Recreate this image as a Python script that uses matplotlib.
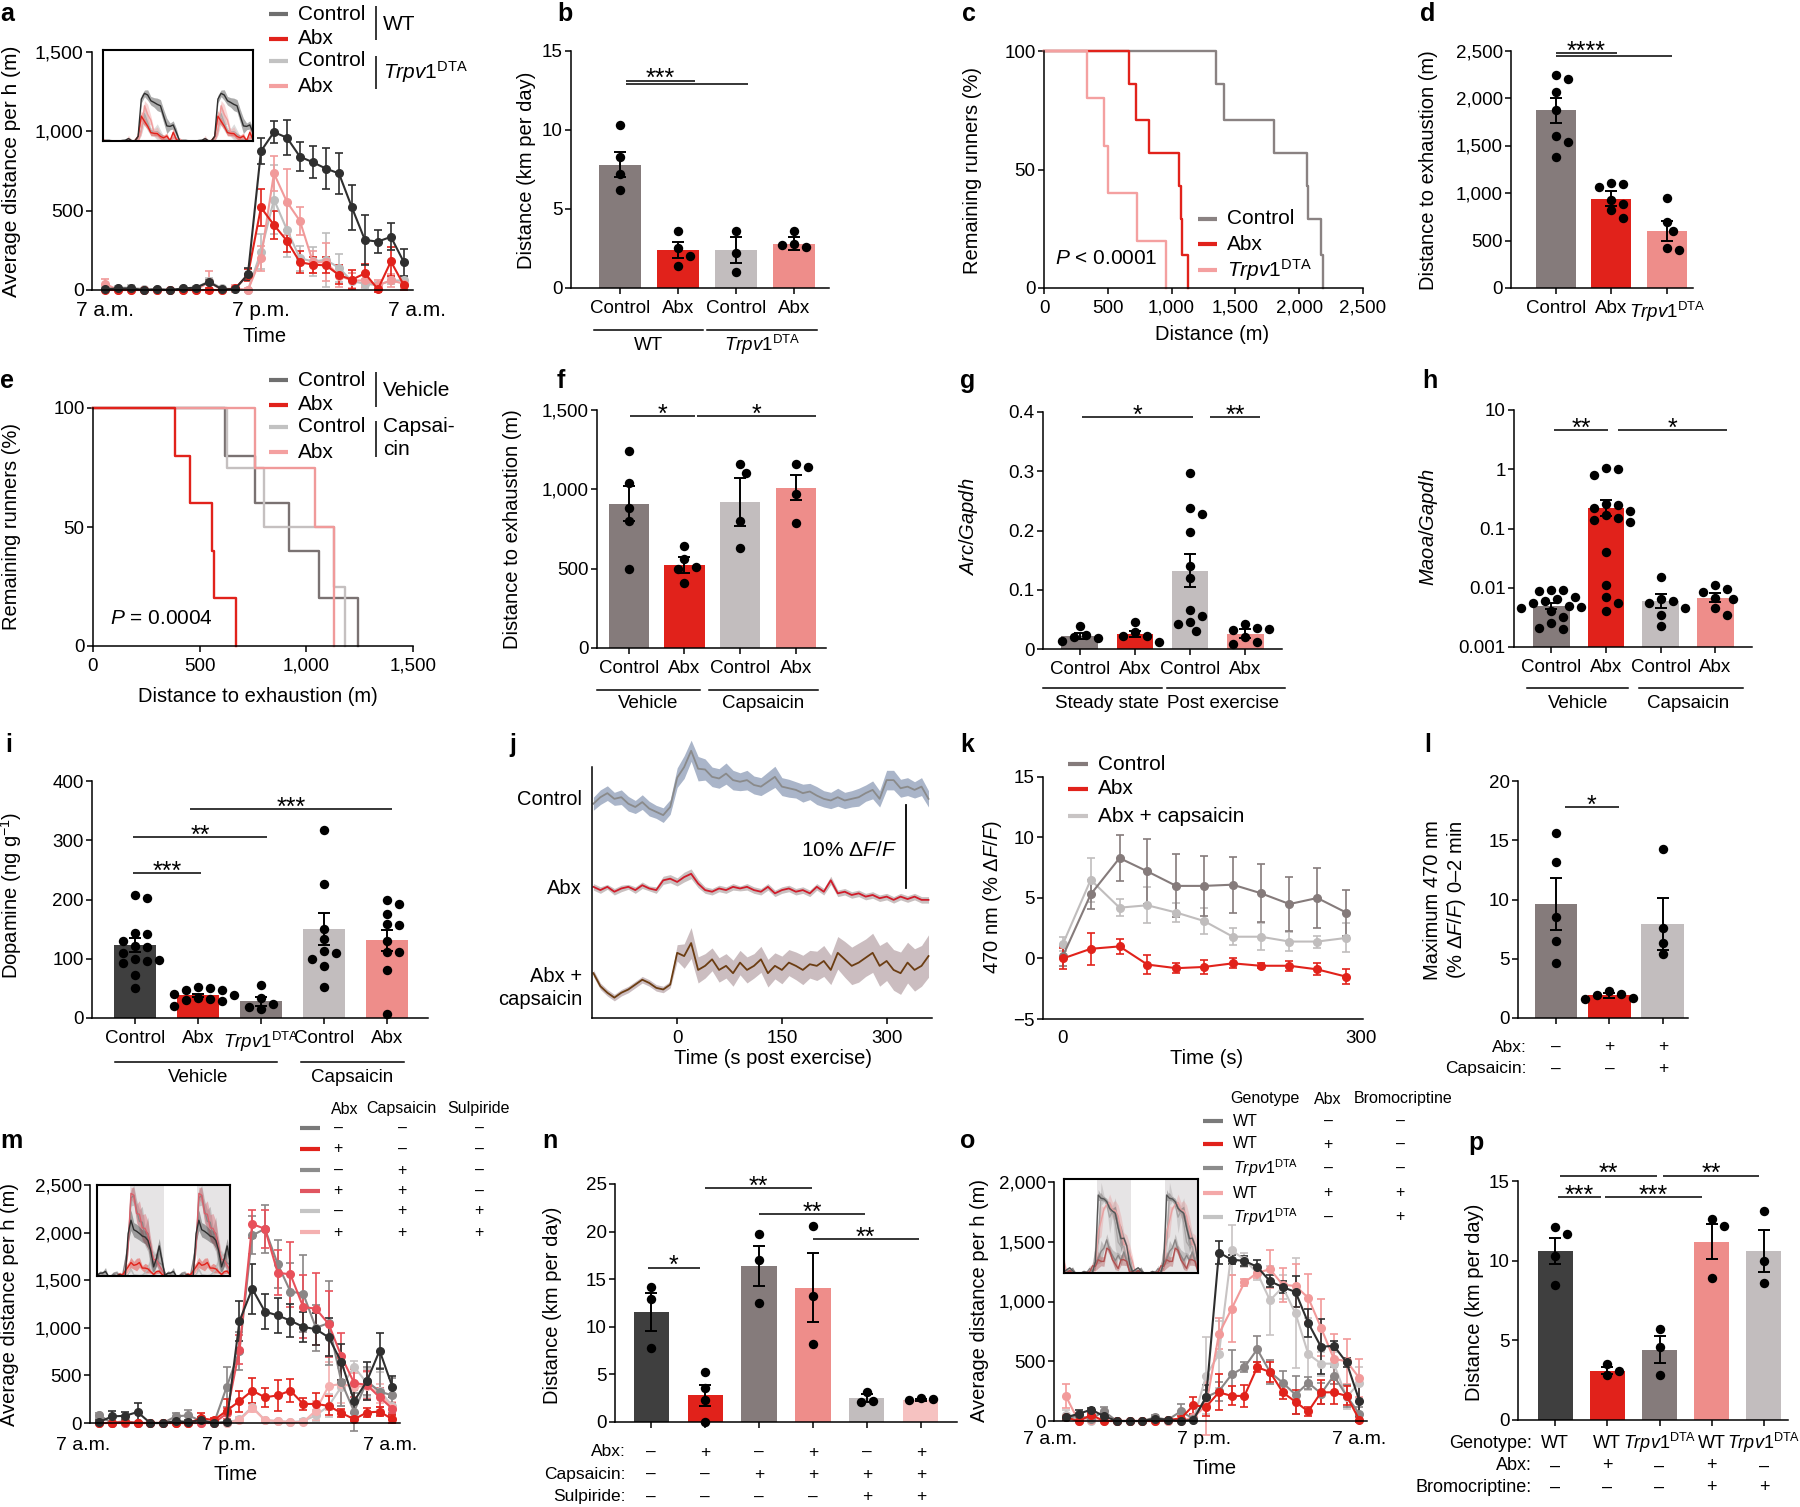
import numpy as np
import matplotlib
matplotlib.use("Agg")
import matplotlib.pyplot as plt
from matplotlib import transforms
from matplotlib.lines import Line2D
from matplotlib.ticker import FuncFormatter

W, H = 1800, 1507
FS = 13.5      # ticks and general text
LFS = 14.5     # axis labels
LEG = 15       # legends
TFS = 11.5     # legend tables in m and o
RFS = 12.5     # +/- rows under bars
SFS = 18       # significance stars
plt.rcParams['font.family'] = ['Liberation Sans', 'DejaVu Sans']
plt.rcParams['mathtext.fontset'] = 'custom'
plt.rcParams['mathtext.rm'] = 'Liberation Sans'
plt.rcParams['mathtext.it'] = 'Liberation Sans:italic'
plt.rcParams['mathtext.bf'] = 'Liberation Sans:bold'
plt.rcParams['axes.linewidth'] = 1.1

TRPV = r'$\mathit{Trpv}\mathrm{1}^{\mathrm{DTA}}$'
DASH = '–'

DARK = '#3f3f3f'
BROWN = '#857b7b'
RED = '#e1221b'
LGRAY = '#c2bdbe'
PINK = '#ee8d8a'
LPINK = '#f6c2c1'

# ---------------- data ----------------
hours = np.arange(24)
time_labels = ['7 a.m.', '7 p.m.', '7 a.m.']

# a: hourly wheel running
a_wt_ctrl = [5, 10, 10, 0, 5, 0, 10, 15, 50, 5, 5, 100, 875, 995, 960, 840, 805, 765, 735, 520, 315, 305, 335, 175]
a_wt_ctrl_err = [5, 5, 5, 5, 5, 5, 5, 5, 10, 5, 5, 40, 80, 70, 110, 90, 100, 130, 130, 140, 160, 70, 85, 85]
a_wt_abx = [0, 0, 0, 0, 0, 0, 0, 0, 0, 0, 10, 95, 520, 410, 310, 175, 160, 155, 95, 65, 105, 5, 180, 30]
a_wt_abx_err = [0, 0, 0, 0, 0, 0, 0, 0, 10, 0, 10, 40, 115, 90, 70, 70, 50, 50, 60, 60, 60, 20, 90, 30]
a_tr_ctrl = [10, 15, 15, 5, 5, 0, 10, 15, 55, 10, 5, 0, 240, 570, 380, 200, 180, 190, 140, 55, 40, 30, 60, 60]
a_tr_ctrl_err = [10, 10, 15, 5, 5, 5, 10, 10, 20, 10, 5, 5, 110, 220, 170, 80, 90, 170, 90, 50, 30, 20, 20, 20]
a_tr_abx = [40, 0, 0, 0, 0, 0, 0, 0, 50, 0, 10, 0, 200, 735, 555, 435, 175, 175, 90, 60, 60, 30, 60, 40]
a_tr_abx_err = [30, 5, 5, 5, 5, 5, 5, 5, 70, 5, 20, 10, 80, 110, 210, 90, 70, 120, 70, 50, 40, 30, 40, 30]

# b
b_labels = ['Control', 'Abx', 'Control', 'Abx']
b_means = [7.8, 2.4, 2.4, 2.8]
b_errs = [0.8, 0.5, 0.8, 0.4]
b_dots = [[10.3, 8.3, 7.2, 6.2], [3.6, 2.5, 2.0, 1.4], [3.6, 2.2, 1.0], [3.6, 2.8, 2.6, 2.7]]

# c: survival
c_ctrl_x = [0, 1350, 1410, 1800, 2060, 2070, 2170, 2190]
c_ctrl_y = [100, 86, 71, 57, 43, 29, 14, 0]
c_abx_x = [0, 670, 720, 820, 1060, 1070, 1085, 1130]
c_abx_y = [100, 86, 71, 57, 43, 29, 14, 0]
c_tr_x = [0, 340, 470, 500, 730, 960]
c_tr_y = [100, 80, 60, 40, 20, 0]

# d
d_labels = ['Control', 'Abx', TRPV]
d_means = [1870, 940, 600]
d_errs = [130, 80, 110]
d_dots = [[2240, 2200, 2060, 1870, 1600, 1540, 1380], [1110, 1090, 1060, 930, 880, 820, 740], [950, 700, 600, 420, 400]]

# e: survival
e_vc_x = [0, 620, 760, 920, 1060, 1240]
e_vc_y = [100, 80, 60, 40, 20, 0]
e_va_x = [0, 385, 455, 560, 565, 670]
e_va_y = [100, 80, 60, 40, 20, 0]
e_cc_x = [0, 630, 800, 1130, 1180]
e_cc_y = [100, 75, 50, 25, 0]
e_ca_x = [0, 760, 1040, 1130]
e_ca_y = [100, 75, 50, 0]

# f
f_labels = ['Control', 'Abx', 'Control', 'Abx']
f_means = [910, 525, 920, 1010]
f_errs = [110, 50, 150, 80]
f_dots = [[1240, 1040, 880, 800, 500], [640, 560, 510, 500, 410], [1160, 1100, 800, 630], [1160, 1140, 970, 790]]

# g
g_labels = ['Control', 'Abx', 'Control', 'Abx']
g_means = [0.022, 0.026, 0.132, 0.026]
g_errs = [0.005, 0.005, 0.028, 0.007]
g_dots = [[0.038, 0.024, 0.020, 0.018, 0.013], [0.045, 0.028, 0.022, 0.022, 0.012],
          [0.297, 0.238, 0.228, 0.197, 0.14, 0.12, 0.065, 0.055, 0.045, 0.043, 0.030],
          [0.042, 0.036, 0.032, 0.034, 0.020, 0.012, 0.008]]

# h
h_labels = ['Control', 'Abx', 'Control', 'Abx']
h_means = [0.0050, 0.22, 0.0060, 0.0068]
h_err_hi = [0.0006, 0.08, 0.0018, 0.0012]
h_err_lo = [0.0006, 0.06, 0.0014, 0.0010]
h_dots = [[0.009, 0.0093, 0.0087, 0.007, 0.0065, 0.006, 0.0055, 0.005, 0.0048, 0.0045, 0.004, 0.0032, 0.0025, 0.002, 0.0021],
          [1.05, 1.0, 0.8, 0.26, 0.25, 0.22, 0.2, 0.17, 0.15, 0.14, 0.13, 0.04, 0.011, 0.007, 0.0055, 0.004],
          [0.015, 0.0065, 0.006, 0.0055, 0.0045, 0.0035, 0.0023],
          [0.011, 0.0095, 0.0085, 0.0068, 0.0065, 0.0045, 0.0035]]

# i
i_labels = ['Control', 'Abx', TRPV, 'Control', 'Abx']
i_means = [123, 38, 28, 150, 131]
i_errs = [12, 3, 8, 27, 18]
i_dots = [[207, 203, 143, 142, 130, 122, 120, 110, 100, 97, 98, 93, 72, 50],
          [53, 50, 48, 47, 40, 38, 34, 32, 30, 28, 20],
          [56, 33, 24, 15, 18],
          [318, 227, 150, 133, 113, 110, 100, 88, 53],
          [200, 193, 175, 158, 157, 130, 112, 111, 81, 7]]

# j: photometry traces (% dF/F relative to each trace's baseline)
j_time = np.arange(-120, 361, 10)
j_ctrl = [0.3, 1.1, 1.6, 0.9, 1.1, 0.3, -0.1, 0.5, -0.3, -0.7,
          -1.1, -0.1, 3.5, 4.8, 6.8, 4.6, 4.5, 3.6, 3.4, 4.0,
          3.2, 3.0, 3.2, 2.6, 2.4, 3.0, 3.6, 2.4, 2.2, 2.0,
          1.6, 1.8, 1.3, 0.9, 0.7, 1.1, 0.7, 0.9, 1.1, 1.6,
          2.0, 0.9, 3.2, 3.2, 2.2, 2.4, 2.0, 2.4, 0.9]
j_ctrl_sem = [0.8, 0.9, 0.9, 0.8, 0.9, 0.9, 0.8, 0.9, 0.9, 0.8,
              0.9, 0.9, 1.2, 1.4, 1.3, 1.5, 1.3, 1.2, 1.2, 1.3,
              1.2, 1.1, 1.2, 1.1, 1.1, 1.2, 1.3, 1.1, 1.1, 1.0,
              1.1, 1.0, 1.1, 1.0, 1.0, 1.1, 1.0, 1.0, 1.1, 1.0,
              1.1, 1.0, 1.2, 1.2, 1.1, 1.1, 1.0, 1.1, 1.0]
j_abx = [0.2, -0.2, 0.2, -0.4, 0.0, 0.2, -0.2, 0.4, 0.0, -0.2,
         1.0, 1.2, 0.8, 1.4, 1.8, 0.6, -0.2, -0.4, 0.0, -0.2,
         0.2, 0.0, 0.2, -0.2, -0.4, 0.2, -0.6, -0.2, 0.0, -0.4,
         -0.2, -0.6, 0.2, -0.4, 1.0, -0.6, -0.4, -0.8, -0.6, -1.0,
         -0.8, -1.2, -1.0, -1.4, -1.0, -1.3, -1.0, -1.4, -1.4]
j_abx_sem = [0.4, 0.4, 0.3, 0.4, 0.4, 0.3, 0.4, 0.4, 0.3, 0.4,
             0.5, 0.5, 0.5, 0.6, 0.6, 0.5, 0.4, 0.4, 0.4, 0.4,
             0.4, 0.3, 0.4, 0.4, 0.4, 0.4, 0.4, 0.4, 0.4, 0.4,
             0.4, 0.4, 0.4, 0.4, 0.5, 0.4, 0.4, 0.4, 0.4, 0.4,
             0.4, 0.4, 0.4, 0.4, 0.4, 0.4, 0.4, 0.4, 0.4]
j_caps = [2.0, 0.4, -0.4, -1.0, -0.4, 0.0, 0.6, 1.2, 0.8, 0.2,
          0.0, 0.6, 4.5, 4.1, 5.7, 2.4, 2.9, 3.7, 2.4, 2.9,
          2.0, 3.3, 2.4, 2.9, 3.7, 2.0, 2.9, 2.4, 3.3, 2.9,
          2.4, 3.1, 2.9, 3.5, 2.4, 4.5, 3.7, 2.9, 3.3, 3.9,
          4.5, 2.9, 3.5, 2.4, 2.0, 3.3, 2.4, 2.9, 4.1]
j_caps_sem = [0.4, 0.4, 0.4, 0.4, 0.4, 0.4, 0.4, 0.4, 0.4, 0.4,
              0.4, 0.4, 1.0, 1.5, 1.9, 1.6, 1.5, 1.4, 1.5, 1.5,
              1.6, 1.5, 1.6, 1.5, 1.6, 1.7, 1.6, 1.7, 1.6, 1.7,
              1.8, 1.7, 1.8, 1.9, 1.8, 2.0, 2.2, 2.3, 2.4, 2.3,
              2.4, 2.5, 2.4, 2.5, 2.6, 2.5, 2.6, 2.5, 2.6]
j_names = ['Control', 'Abx', 'Abx +\ncapsaicin']

# k
k_time = [0, 28, 57, 85, 114, 142, 171, 199, 228, 256, 285]
k_ctrl = [0.2, 5.3, 8.3, 7.2, 6.0, 6.0, 6.1, 5.4, 4.5, 5.0, 3.8]
k_ctrl_err = [0.8, 1.2, 1.9, 2.7, 2.6, 2.5, 2.3, 2.4, 2.2, 2.5, 1.9]
k_abx = [0.0, 0.8, 1.0, -0.5, -0.8, -0.7, -0.4, -0.6, -0.6, -0.9, -1.5]
k_abx_err = [0.9, 1.3, 0.6, 0.8, 0.4, 0.6, 0.4, 0.2, 0.4, 0.5, 0.6]
k_caps = [1.2, 6.5, 4.2, 4.4, 3.8, 3.1, 1.8, 1.8, 1.4, 1.4, 1.7]
k_caps_err = [0.6, 1.8, 0.7, 1.5, 0.8, 1.1, 0.7, 1.1, 0.8, 0.5, 1.2]

# l
l_means = [9.6, 1.9, 7.9]
l_errs = [2.2, 0.25, 2.2]
l_dots = [[15.6, 13.2, 8.5, 6.5, 4.6], [2.3, 2.0, 1.9, 1.7, 1.6], [14.3, 7.6, 6.3, 5.4]]
l_rows = ['Abx:', 'Capsaicin:']
l_signs = [[DASH, '+', '+'], [DASH, DASH, '+']]

# m
m_ctrl = [10, 70, 75, 115, 0, 0, 20, 10, 30, 0, 10, 1070, 1410, 1170, 1130, 1075, 1010, 985, 900, 640, 230, 440, 760, 380]
m_ctrl_err = [20, 60, 40, 100, 0, 10, 30, 20, 30, 0, 10, 210, 260, 180, 180, 170, 160, 170, 200, 190, 120, 200, 190, 110]
m_abx = [0, 0, 10, 0, 0, 0, 0, 0, 50, 30, 130, 230, 340, 270, 290, 340, 200, 200, 180, 105, 40, 110, 120, 40]
m_abx_err = [0, 0, 20, 0, 0, 0, 0, 0, 50, 20, 120, 110, 130, 100, 160, 120, 60, 120, 100, 40, 20, 50, 50, 40]
m_caps = [80, 0, 20, 0, 0, 0, 70, 80, 20, 0, 380, 760, 1970, 2040, 1670, 1380, 1360, 1000, 1050, 430, 120, 440, 330, 290]
m_caps_err = [30, 0, 20, 0, 0, 10, 40, 60, 20, 0, 210, 200, 200, 250, 250, 300, 400, 240, 440, 250, 200, 150, 250, 180]
m_abx_caps = [0, 0, 0, 0, 0, 0, 0, 0, 0, 0, 100, 770, 2090, 2040, 1580, 1560, 1220, 1200, 1040, 700, 420, 400, 270, 150]
m_abx_caps_err = [0, 0, 0, 0, 0, 0, 0, 0, 0, 0, 60, 150, 150, 200, 240, 340, 330, 380, 350, 250, 150, 150, 100, 60]
m_sulp = [80, 0, 0, 0, 0, 0, 0, 0, 0, 0, 0, 40, 170, 30, 20, 10, 20, 80, 180, 380, 590, 420, 340, 180]
m_sulp_err = [20, 0, 0, 0, 0, 0, 0, 0, 0, 0, 0, 20, 40, 20, 10, 10, 20, 60, 120, 200, 60, 150, 200, 100]
m_all = [0, 0, 0, 0, 0, 0, 0, 0, 0, 0, 0, 30, 160, 30, 20, 10, 10, 130, 390, 410, 380, 390, 310, 160]
m_all_err = [0, 0, 0, 0, 0, 0, 0, 0, 0, 0, 0, 20, 40, 20, 10, 10, 10, 100, 250, 200, 150, 150, 100, 60]
m_head = ['Abx', 'Capsaicin', 'Sulpiride']
m_abx_sign = [DASH, '+', DASH, '+', DASH, '+']
m_caps_sign = [DASH, DASH, '+', '+', '+', '+']
m_sulp_sign = [DASH, DASH, DASH, DASH, '+', '+']

# n
n_means = [11.6, 2.8, 16.4, 14.1, 2.5, 2.3]
n_errs = [2.0, 1.1, 2.1, 3.6, 0.4, 0.1]
n_dots = [[14.2, 12.9, 7.8], [5.2, 3.6, 2.3, 0.0], [19.7, 17.0, 12.5], [20.6, 13.2, 8.2], [3.2, 2.2, 2.1], [2.5, 2.4, 2.3]]
n_rows = ['Abx:', 'Capsaicin:', 'Sulpiride:']
n_signs = [[DASH, '+', DASH, '+', DASH, '+'], [DASH, DASH, '+', '+', '+', '+'], [DASH, DASH, DASH, DASH, '+', '+']]

# o
o_wt = [30, 60, 95, 40, 0, 0, 0, 20, 10, 0, 10, 200, 1410, 1350, 1340, 1290, 1170, 1120, 1080, 820, 620, 630, 490, 170]
o_wt_err = [20, 30, 10, 30, 0, 0, 0, 10, 10, 0, 10, 100, 100, 40, 40, 60, 50, 50, 130, 120, 230, 40, 40, 130]
o_wt_abx = [30, 0, 50, 0, 0, 0, 0, 0, 10, 20, 130, 120, 240, 210, 210, 450, 410, 240, 160, 80, 240, 240, 210, 10]
o_wt_abx_err = [20, 0, 20, 0, 0, 0, 0, 0, 10, 20, 70, 80, 150, 80, 90, 40, 80, 60, 100, 40, 100, 100, 80, 20]
o_tr = [30, 40, 20, 80, 0, 0, 0, 30, 10, 80, 20, 200, 250, 390, 450, 600, 410, 320, 220, 320, 230, 380, 210, 60]
o_tr_err = [20, 30, 20, 40, 0, 0, 0, 20, 10, 60, 20, 60, 80, 200, 40, 110, 100, 100, 160, 50, 90, 70, 90, 60]
o_wt_abx_br = [210, 0, 10, 0, 0, 0, 0, 0, 0, 0, 30, 130, 730, 940, 1160, 1240, 1270, 1140, 1130, 1030, 780, 520, 500, 360]
o_wt_abx_br_err = [100, 0, 10, 0, 0, 0, 0, 0, 0, 0, 20, 250, 130, 280, 30, 40, 160, 140, 180, 200, 240, 210, 190, 160]
o_tr_br = [50, 0, 0, 0, 0, 0, 0, 0, 0, 0, 10, 380, 560, 1430, 1350, 1240, 1010, 1120, 900, 560, 480, 480, 200, 320]
o_tr_br_err = [40, 0, 0, 0, 0, 0, 0, 0, 0, 0, 10, 320, 280, 210, 60, 60, 290, 100, 460, 300, 100, 100, 100, 130]
o_head = ['Genotype', 'Abx', 'Bromocriptine']
o_geno = ['WT', 'WT', TRPV, 'WT', TRPV]
o_abx_sign = [DASH, '+', DASH, '+', DASH]
o_bromo_sign = [DASH, DASH, DASH, '+', '+']

# p
p_means = [10.6, 3.1, 4.4, 11.2, 10.6]
p_errs = [0.8, 0.2, 0.85, 1.1, 1.3]
p_dots = [[12.1, 11.7, 10.3, 8.5], [3.5, 3.1, 2.8], [5.7, 4.6, 2.8], [12.6, 12.2, 8.9], [13.1, 10.0, 8.6]]
p_rows = ['Genotype:', 'Abx:', 'Bromocriptine:']
p_signs = [['WT', 'WT', TRPV, 'WT', TRPV], [DASH, '+', DASH, '+', DASH], [DASH, DASH, DASH, '+', '+']]

# ---------------- helpers ----------------
fig = plt.figure(figsize=(W / 100, H / 100), dpi=100)
comma = FuncFormatter(lambda v, p: f'{v:,.0f}')


def add_ax(x0, x1, ytop, ybot):
    ax = fig.add_axes([x0 / W, 1 - ybot / H, (x1 - x0) / W, (ybot - ytop) / H])
    ax.spines['top'].set_visible(False)
    ax.spines['right'].set_visible(False)
    ax.tick_params(direction='out', length=4, width=1.1, labelsize=FS)
    ax.tick_params(axis='y', pad=2)
    ax.tick_params(axis='x', pad=4.5)
    return ax


def blend(ax):
    return transforms.blended_transform_factory(ax.transData, fig.transFigure)


def ftext(x, y, s, **kw):
    kw.setdefault('fontsize', FS)
    fig.text(x / W, 1 - y / H, s, **kw)


def xtext(ax, x, y, s, **kw):
    kw.setdefault('fontsize', FS)
    ax.text(x, 1 - y / H, s, transform=blend(ax), **kw)


def xline(ax, x0, x1, y):
    ax.plot([x0, x1], [1 - y / H] * 2, transform=blend(ax), color='k', lw=1.1, clip_on=False)


def fline(x0, x1, y0, y1, color='k', lw=1.1):
    fig.add_artist(Line2D([x0 / W, x1 / W], [1 - y0 / H, 1 - y1 / H], color=color, lw=lw,
                          solid_capstyle='butt'))


def ylab(x, y, s):
    ftext(x, y, s, rotation=90, ha='center', va='center', fontsize=LFS)


def xlab(x, y, s):
    ftext(x, y, s, ha='center', va='center', fontsize=LFS)


def letter(x, y, s):
    ftext(x, y, s, fontsize=18, fontweight='bold', ha='left', va='baseline')


def swarm(ax, xc, vals, d=10.0):
    T = ax.transData
    pts = T.transform(np.column_stack([np.full(len(vals), float(xc)), np.asarray(vals, float)]))
    placed = []
    for px, py in pts:
        for k in range(0, 15):
            off = 0 if k == 0 else ((k + 1) // 2) * d * 0.6 * (1 if k % 2 else -1)
            cx = px + off
            if all(np.hypot(cx - qx, py - qy) >= d for qx, qy in placed):
                break
        placed.append((cx, py))
    xs = np.array([p[0] for p in placed])
    return T.inverted().transform(np.column_stack([xs, pts[:, 1]]))[:, 0]


def bar_panel(ax, means, errs, dots, colors, width, lo=None, bottom=0):
    x = np.arange(len(means))
    ax.bar(x, np.asarray(means) - bottom, width, bottom=bottom, color=colors, zorder=2, linewidth=0)
    for i, vals in enumerate(dots):
        xs = swarm(ax, i, vals)
        ax.scatter(xs, vals, s=46, color='k', zorder=4, linewidths=0, clip_on=False)
    yerr = errs if lo is None else [lo, errs]
    ax.errorbar(x, means, yerr=yerr, fmt='none', ecolor='k', elinewidth=1.4, capsize=4.5,
                capthick=1.4, zorder=5)
    ax.set_xticks(x)


def sig(ax, x0, x1, y, label, text=True):
    ax.plot([x0, x1], [y, y], color='k', lw=1.1, clip_on=False, solid_capstyle='butt')
    if text:
        ax.annotate(label, ((x0 + x1) / 2, y), xytext=(0, -4), textcoords='offset points',
                    ha='center', va='baseline', fontsize=SFS, annotation_clip=False)


def sign_rows(ax, names, rows, ys, name_x, fs=RFS):
    for name, row, y in zip(names, rows, ys):
        ftext(name_x, y, name, ha='right', va='center', fontsize=fs)
        for i, s in enumerate(row):
            xtext(ax, i, y, s, ha='center', va='center', fontsize=fs)


def hourly(ax, series):
    for vals, errs, col in series:
        ax.errorbar(hours, vals, yerr=errs, color=col, lw=1.5, marker='o', ms=5.5, elinewidth=1.2,
                    capsize=3, capthick=1.2, clip_on=False)


def inset(x0, x1, y0, y1, series, ymax, night=False):
    ax = fig.add_axes([x0 / W, 1 - y1 / H, (x1 - x0) / W, (y1 - y0) / H])
    for s in ax.spines.values():
        s.set_linewidth(1.5)
    ax.set_xticks([])
    ax.set_yticks([])
    x = np.arange(48)
    if night:
        ax.axvspan(11.5, 23.5, color='#e6e4e5', lw=0)
        ax.axvspan(35.5, 47, color='#e6e4e5', lw=0)
    for vals, errs, col in series:
        v = np.concatenate([vals, vals])
        e = np.concatenate([errs, errs])
        ax.fill_between(x, v - e, v + e, color=col, alpha=0.4, lw=0)
        ax.plot(x, v, color=col, lw=1.0)
    ax.set_xlim(0, 47)
    ax.set_ylim(0, ymax)
    return ax


def legend_lines(x0, x1, xt, ys, colors, labels, fs=LEG):
    for y, c, lab in zip(ys, colors, labels):
        fline(x0, x1, y, y, color=c, lw=3)
        ftext(xt, y, lab, ha='left', va='center', fontsize=fs)


# ---------------- a ----------------
ax = add_ax(92, 413, 52, 290)
ax.set_xlim(-1.0, 23.7)
ax.set_ylim(0, 1500)
hourly(ax, [(a_tr_ctrl, a_tr_ctrl_err, '#bdbdbd'), (a_tr_abx, a_tr_abx_err, '#f19a9a'),
            (a_wt_abx, a_wt_abx_err, RED), (a_wt_ctrl, a_wt_ctrl_err, '#2f2f2f')])
ax.set_yticks([0, 500, 1000, 1500])
ax.yaxis.set_major_formatter(comma)
ax.tick_params(axis='y', labelsize=14)
ax.set_xticks([])
for pos, lab in zip([0, 12, 24], time_labels):
    xtext(ax, pos, 310, lab, ha='center', va='center', fontsize=15)
xlab(265, 337, 'Time')
ftext(12, 171, 'Average distance per h (m)', rotation=90, ha='center', va='center', fontsize=15)
inset(103, 253, 50, 141, [(a_tr_ctrl, a_tr_ctrl_err, '#aaaaaa'), (a_tr_abx, a_tr_abx_err, '#f19a9a'),
                          (a_wt_abx, a_wt_abx_err, RED), (a_wt_ctrl, a_wt_ctrl_err, '#2f2f2f')], 1900)
legend_lines(269, 288, 298, [14, 39, 61, 86], ['#6f6f6f', RED, '#c2c2c2', '#f4a0a0'],
             ['Control', 'Abx', 'Control', 'Abx'])
fline(376, 376, 6, 40)
fline(376, 376, 56, 89)
ftext(383, 24, 'WT', ha='left', va='center', fontsize=LEG)
ftext(383, 72, TRPV, ha='left', va='center', fontsize=LEG)
letter(0, 21, 'a')

# ---------------- b ----------------
ax = add_ax(571, 829, 50.5, 288)
ax.set_xlim(-0.84, 3.6)
ax.set_ylim(0, 15)
bar_panel(ax, b_means, b_errs, b_dots, [BROWN, RED, LGRAY, PINK], 0.72)
ax.set_xticklabels(b_labels)
ax.set_yticks([0, 5, 10, 15])
sig(ax, 0.1, 1.3, 13.1, '***')
sig(ax, 0.1, 2.2, 12.9, '', text=False)
xline(ax, -0.45, 1.43, 330)
xline(ax, 1.5, 3.4, 330)
xtext(ax, 0.5, 345, 'WT', ha='center', va='center')
xtext(ax, 2.45, 345, TRPV, ha='center', va='center')
ylab(527, 170, 'Distance (km per day)')
letter(557, 21, 'b')

# ---------------- c ----------------
ax = add_ax(1044, 1363, 51, 288)
ax.set_xlim(0, 2500)
ax.set_ylim(0, 100)
ax.step(c_ctrl_x, c_ctrl_y, where='post', color='#8a8282', lw=1.7, clip_on=False)
ax.step(c_abx_x, c_abx_y, where='post', color=RED, lw=1.7, clip_on=False)
ax.step(c_tr_x, c_tr_y, where='post', color='#f4a0a0', lw=1.7, clip_on=False)
ax.set_xticks([0, 500, 1000, 1500, 2000, 2500])
ax.xaxis.set_major_formatter(comma)
ax.set_yticks([0, 50, 100])
xlab(1212, 334, 'Distance (m)')
ylab(973, 170, 'Remaining runners (%)')
legend_lines(1198, 1217, 1227, [219, 244, 270], ['#8a8282', RED, '#f4a0a0'], ['Control', 'Abx', TRPV])
ftext(1055, 258, r'$\mathit{P}$ < 0.0001', ha='left', va='center', fontsize=LEG)
letter(962, 21, 'c')

# ---------------- d ----------------
ax = add_ax(1511, 1693, 50.5, 288)
ax.set_xlim(-0.81, 2.47)
ax.set_ylim(0, 2500)
bar_panel(ax, d_means, d_errs, d_dots, [BROWN, RED, PINK], 0.72)
ax.set_xticklabels(d_labels)
ax.set_yticks([0, 500, 1000, 1500, 2000, 2500])
ax.yaxis.set_major_formatter(comma)
sig(ax, 0.0, 1.1, 2470, '****')
sig(ax, 0.0, 2.1, 2440, '', text=False)
ylab(1429, 170, 'Distance to exhaustion (m)')
letter(1420, 21, 'd')

# ---------------- e ----------------
ax = add_ax(93, 413, 408, 646)
ax.set_xlim(0, 1500)
ax.set_ylim(0, 100)
ax.step(e_vc_x, e_vc_y, where='post', color='#7a7272', lw=1.7, clip_on=False)
ax.step(e_cc_x, e_cc_y, where='post', color='#c5c0c0', lw=1.7, clip_on=False)
ax.step(e_ca_x, e_ca_y, where='post', color='#f09a9a', lw=1.7, clip_on=False)
ax.step(e_va_x, e_va_y, where='post', color=RED, lw=1.7, clip_on=False)
ax.set_xticks([0, 500, 1000, 1500])
ax.xaxis.set_major_formatter(comma)
ax.set_yticks([0, 50, 100])
xlab(258, 697, 'Distance to exhaustion (m)')
ylab(12, 527, 'Remaining runners (%)')
legend_lines(269, 288, 298, [380, 405, 427, 452], ['#6f6f6f', RED, '#c2c2c2', '#f4a0a0'],
             ['Control', 'Abx', 'Control', 'Abx'])
fline(376, 376, 372, 407)
fline(376, 376, 421, 457)
ftext(383, 391, 'Vehicle', ha='left', va='center', fontsize=LEG)
ftext(383, 427, 'Capsai-', ha='left', va='center', fontsize=LEG)
ftext(383, 450, 'cin', ha='left', va='center', fontsize=LEG)
ftext(110, 618, r'$\mathit{P}$ = 0.0004', ha='left', va='center', fontsize=LEG)
letter(0, 388, 'e')

# ---------------- f ----------------
ax = add_ax(597, 826, 410, 648)
ax.set_xlim(-0.57, 3.54)
ax.set_ylim(0, 1500)
bar_panel(ax, f_means, f_errs, f_dots, [BROWN, RED, LGRAY, PINK], 0.72)
ax.set_xticklabels(f_labels)
ax.set_yticks([0, 500, 1000, 1500])
ax.yaxis.set_major_formatter(comma)
sig(ax, 0.03, 1.18, 1462, '*')
sig(ax, 1.23, 3.36, 1462, '*')
xline(ax, -0.57, 1.27, 690)
xline(ax, 1.44, 3.39, 690)
xtext(ax, 0.35, 704, 'Vehicle', ha='center', va='center')
xtext(ax, 2.42, 704, 'Capsaicin', ha='center', va='center')
ylab(512, 529, 'Distance to exhaustion (m)')
letter(557, 388, 'f')

# ---------------- g ----------------
ax = add_ax(1043, 1282, 412, 649)
ax.set_xlim(-0.67, 3.67)
ax.set_ylim(0, 0.4)
bar_panel(ax, g_means, g_errs, g_dots, [BROWN, RED, LGRAY, PINK], 0.67)
ax.set_xticklabels(g_labels)
ax.set_yticks([0, 0.1, 0.2, 0.3, 0.4])
ax.yaxis.set_major_formatter(FuncFormatter(lambda v, p: '0' if v == 0 else f'{v:.1f}'))
sig(ax, 0.04, 2.05, 0.3916, '*')
sig(ax, 2.36, 3.27, 0.3916, '**')
xline(ax, -0.67, 1.49, 688)
xline(ax, 1.58, 3.73, 688)
xtext(ax, 0.5, 703, 'Steady state', ha='center', va='center')
xtext(ax, 2.6, 703, 'Post exercise', ha='center', va='center')
ylab(968, 527, r'$\mathit{Arc/Gapdh}$')
letter(960, 388, 'g')

# ---------------- h ----------------
ax = add_ax(1514, 1752, 410, 647)
ax.set_yscale('log')
ax.set_xlim(-0.68, 3.67)
ax.set_ylim(0.001, 10)
bar_panel(ax, h_means, h_err_hi, h_dots, [BROWN, RED, LGRAY, PINK], 0.67, lo=h_err_lo, bottom=0.001)
ax.set_xticklabels(h_labels)
ax.set_yticks([0.001, 0.01, 0.1, 1, 10])
ax.set_yticklabels(['0.001', '0.01', '0.1', '1', '10'])
ax.yaxis.set_minor_locator(matplotlib.ticker.NullLocator())
sig(ax, 0.05, 1.04, 4.6, '**')
sig(ax, 1.22, 3.22, 4.6, '*')
xline(ax, -0.45, 1.41, 688)
xline(ax, 1.61, 3.5, 688)
xtext(ax, 0.5, 703, 'Vehicle', ha='center', va='center')
xtext(ax, 2.5, 703, 'Capsaicin', ha='center', va='center')
ylab(1428, 527, r'$\mathit{Maoa/Gapdh}$')
letter(1422, 388, 'h')

# ---------------- i ----------------
ax = add_ax(92, 428, 781, 1018)
ax.set_xlim(-0.68, 4.65)
ax.set_ylim(0, 400)
bar_panel(ax, i_means, i_errs, i_dots, [DARK, RED, BROWN, LGRAY, PINK], 0.67)
ax.set_xticklabels(i_labels)
ax.set_yticks([0, 100, 200, 300, 400])
sig(ax, -0.03, 1.05, 245, '***')
sig(ax, -0.03, 2.1, 305, '**')
sig(ax, 0.87, 4.08, 352, '***')
xline(ax, -0.32, 2.25, 1062)
xline(ax, 2.63, 4.27, 1062)
xtext(ax, 1.0, 1077, 'Vehicle', ha='center', va='center')
xtext(ax, 3.45, 1077, 'Capsaicin', ha='center', va='center')
ylab(11, 895, r'Dopamine (ng g$^{-1}$)')
letter(5, 752, 'i')

# ---------------- j ----------------
ax = add_ax(592, 932, 741, 1018)
ax.set_xlim(-122, 365)
ax.set_ylim(0, 34)
ax.spines['left'].set_bounds(0, 30.8)
ax.set_yticks([])
for vals, sem, base, lc, fc in [(j_ctrl, j_ctrl_sem, 26.0, '#8a8a8a', '#aab5c9'),
                                (j_abx, j_abx_sem, 15.9, '#d01c2a', '#c9c0c0'),
                                (j_caps, j_caps_sem, 3.5, '#6b3d12', '#cbbdc0')]:
    v = np.asarray(vals) + base
    s = np.asarray(sem)
    ax.fill_between(j_time, v - s, v + s, color=fc, lw=0, clip_on=False)
    ax.plot(j_time, v, color=lc, lw=1.3, clip_on=False)
ax.set_xticks([0, 150, 300])
ax.plot([328, 328], [16.0, 26.1], color='k', lw=1.3)
ax.text(315, 20.6, r'10% $\Delta\mathit{F/F}$', ha='right', va='center', fontsize=LEG)
for name, y in zip(j_names, [799, 888, 988]):
    ftext(582, y, name, ha='right', va='center', linespacing=1.25, fontsize=14.5)
xlab(773, 1059, 'Time (s post exercise)')
letter(509, 752, 'j')

# ---------------- k ----------------
ax = add_ax(1043, 1363, 777, 1019)
ax.set_xlim(-20, 302)
ax.set_ylim(-5, 15)
for vals, errs, col in [(k_caps, k_caps_err, '#c0bdbd'), (k_ctrl, k_ctrl_err, '#857b7b'),
                        (k_abx, k_abx_err, RED)]:
    ax.errorbar(k_time, vals, yerr=errs, color=col, lw=1.5, marker='o', ms=5.5, elinewidth=1.2,
                capsize=3, capthick=1.2)
ax.set_xticks([0, 300])
ax.tick_params(axis='x', length=0, pad=8)
ax.set_yticks([-5, 0, 5, 10, 15])
xlab(1207, 1059, 'Time (s)')
ylab(993, 897, r'470 nm (% $\Delta\mathit{F/F}$)')
legend_lines(1068, 1088, 1098, [764, 789, 816], ['#857b7b', RED, '#c8c4c4'],
             ['Control', 'Abx', 'Abx + capsaicin'])
letter(960, 752, 'k')

# ---------------- l ----------------
ax = add_ax(1518, 1688, 781, 1018)
ax.set_xlim(-0.71, 2.47)
ax.set_ylim(0, 20)
bar_panel(ax, l_means, l_errs, l_dots, [BROWN, RED, LGRAY], 0.8)
ax.set_xticklabels([])
ax.set_yticks([0, 5, 10, 15, 20])
sig(ax, 0.17, 1.17, 17.8, '*')
sign_rows(ax, l_rows, l_signs, [1047, 1069], 1527)
ftext(1433, 900, 'Maximum 470 nm', rotation=90, ha='center', va='center', fontsize=LFS)
ftext(1456, 900, r'(% $\Delta\mathit{F/F}$) 0–2 min', rotation=90, ha='center', va='center', fontsize=LFS)
letter(1424, 752, 'l')

# ---------------- m ----------------
ax = add_ax(90, 400, 1185, 1423)
ax.set_xlim(-0.73, 23.6)
ax.set_ylim(0, 2500)
hourly(ax, [(m_sulp, m_sulp_err, '#c8c4c4'), (m_all, m_all_err, '#f5b0b0'),
            (m_caps, m_caps_err, '#8a8686'), (m_abx_caps, m_abx_caps_err, '#e8505a'),
            (m_abx, m_abx_err, RED), (m_ctrl, m_ctrl_err, '#2f2f2f')])
ax.set_yticks([0, 500, 1000, 1500, 2000, 2500])
ax.yaxis.set_major_formatter(comma)
ax.set_xticks([])
for pos, lab in zip([-1.3, 10.2, 22.8], time_labels):
    xtext(ax, pos, 1445, lab, ha='center', va='center', fontsize=14)
xlab(236, 1475, 'Time')
ylab(10, 1304, 'Average distance per h (m)')
inset(97, 230, 1185, 1276, [(m_sulp, m_sulp_err, '#bbbbbb'), (m_caps, m_caps_err, '#8a8686'),
                            (m_abx_caps, m_abx_caps_err, '#d9606a'), (m_abx, m_abx_err, RED),
                            (m_ctrl, m_ctrl_err, '#2f2f2f')], 2300, night=True)
for x, h in zip([345, 401, 479], m_head):
    ftext(x, 1109, h, ha='center', va='center', fontsize=TFS)
m_rows_y = [1128, 1149, 1170, 1191, 1211, 1232]
m_sw = ['#7a7a7a', RED, '#8c8c8c', '#e05560', '#c4c4c4', '#f4b0b0']
for y, c, a_s, c_s, s_s in zip(m_rows_y, m_sw, m_abx_sign, m_caps_sign, m_sulp_sign):
    fline(300, 320, y, y, color=c, lw=3)
    ftext(338, y, a_s, ha='center', va='center', fontsize=TFS)
    ftext(402, y, c_s, ha='center', va='center', fontsize=TFS)
    ftext(479, y, s_s, ha='center', va='center', fontsize=TFS)
letter(0, 1148, 'm')

# ---------------- n ----------------
ax = add_ax(615, 957, 1184, 1422)
ax.set_xlim(-0.67, 5.67)
ax.set_ylim(0, 25)
bar_panel(ax, n_means, n_errs, n_dots, [DARK, RED, BROWN, PINK, LGRAY, LPINK], 0.65)
ax.set_xticklabels([])
ax.set_yticks([0, 5, 10, 15, 20, 25])
sig(ax, -0.06, 0.9, 16.2, '*')
sig(ax, 1.0, 2.98, 24.6, '**')
sig(ax, 2.0, 3.97, 21.8, '**')
sig(ax, 3.0, 4.96, 19.2, '**')
sign_rows(ax, n_rows, n_signs, [1452, 1474, 1497], 626)
ylab(553, 1305, 'Distance (km per day)')
letter(542, 1148, 'n')

# ---------------- o ----------------
ax = add_ax(1054, 1367, 1182, 1421)
ax.set_xlim(-0.92, 23.6)
ax.set_ylim(0, 2000)
hourly(ax, [(o_tr_br, o_tr_br_err, '#c8c4c4'), (o_wt_abx_br, o_wt_abx_br_err, '#f29a9a'),
            (o_tr, o_tr_err, '#8a8585'), (o_wt_abx, o_wt_abx_err, RED), (o_wt, o_wt_err, '#2e2e2e')])
ax.set_yticks([0, 500, 1000, 1500, 2000])
ax.yaxis.set_major_formatter(comma)
ax.set_xticks([])
for pos, lab in zip([-1.25, 10.8, 23.0], time_labels):
    xtext(ax, pos, 1440, lab, ha='center', va='center', fontsize=14)
xlab(1215, 1468, 'Time')
ylab(980, 1301, 'Average distance per h (m)')
inset(1064, 1198, 1179, 1273, [(o_tr_br, o_tr_br_err, '#a8a4a4'), (o_wt_abx_br, o_wt_abx_br_err, '#e8a0a0'),
                               (o_tr, o_tr_err, '#8a8585'), (o_wt_abx, o_wt_abx_err, '#b05050'),
                               (o_wt, o_wt_err, '#555555')], 1700, night=True)
for x, h in zip([1265, 1328, 1403], o_head):
    ftext(x, 1099, h, ha='center', va='center', fontsize=TFS)
o_rows_y = [1121, 1144, 1168, 1193, 1217]
o_sw = ['#7a7a7a', RED, '#8c8c8c', '#f4a8a8', '#c4c4c4']
for y, c, g, a_s, b_s in zip(o_rows_y, o_sw, o_geno, o_abx_sign, o_bromo_sign):
    fline(1203, 1223, y, y, color=c, lw=3)
    ftext(1233, y, g, ha='left', va='center', fontsize=TFS)
    ftext(1328, y, a_s, ha='center', va='center', fontsize=TFS)
    ftext(1400, y, b_s, ha='center', va='center', fontsize=TFS)
letter(960, 1148, 'o')

# ---------------- p ----------------
ax = add_ax(1518, 1788, 1181, 1420)
ax.set_xlim(-0.71, 4.46)
ax.set_ylim(0, 15)
bar_panel(ax, p_means, p_errs, p_dots, [DARK, RED, BROWN, PINK, LGRAY], 0.67)
ax.set_xticklabels([])
ax.set_yticks([0, 5, 10, 15])
sig(ax, 0.06, 0.88, 14.0, '***')
sig(ax, 0.96, 2.81, 14.0, '***')
sig(ax, 0.1, 1.95, 15.33, '**')
sig(ax, 2.07, 3.9, 15.33, '**')
sign_rows(ax, p_rows, p_signs, [1443, 1466, 1487], 1532, fs=13)
ylab(1475, 1302, 'Distance (km per day)')
letter(1468, 1150, 'p')

fig.savefig('out.png', dpi=100)
